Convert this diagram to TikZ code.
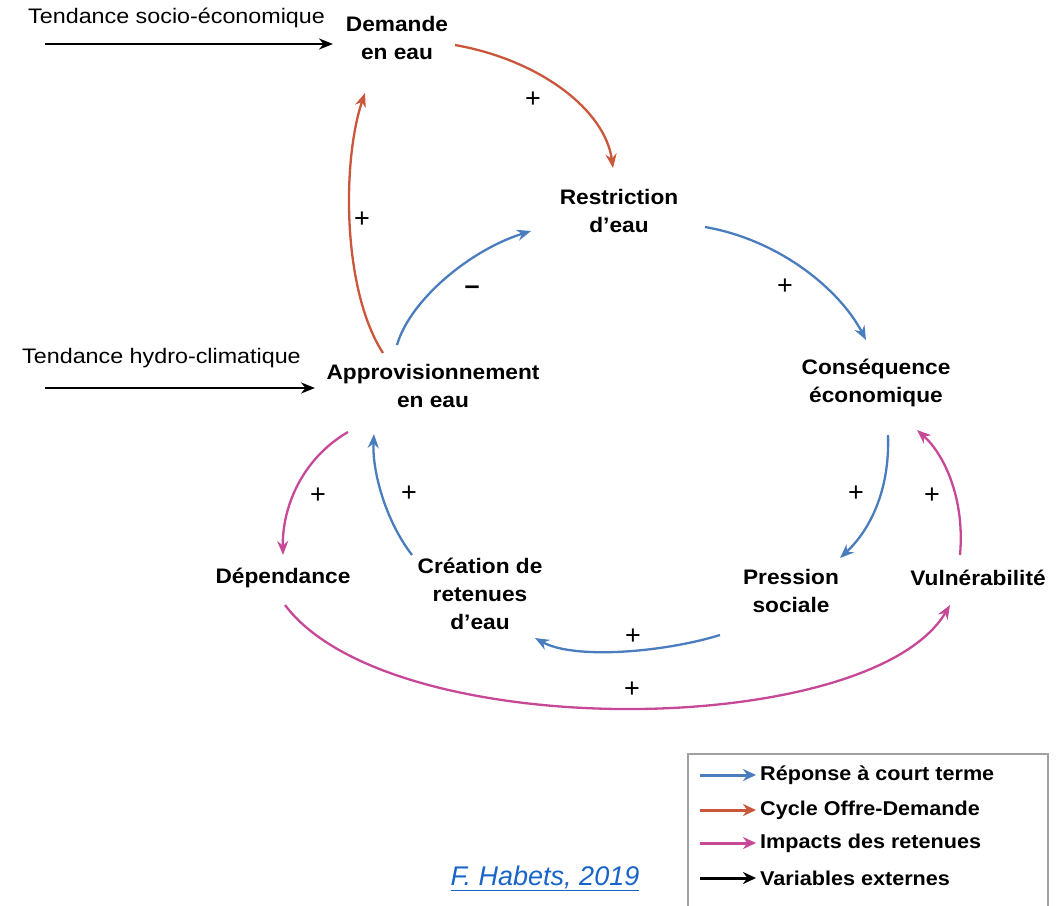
\documentclass[tikz,border=0pt]{standalone}
\usepackage{fontspec}
\setmainfont{Liberation Sans}
\newfontfamily\nodefont[FakeStretch=1.08]{Liberation Sans}
\newfontfamily\extfont[FakeStretch=1.11]{Liberation Sans}
\usetikzlibrary{arrows.meta,calc}
\definecolor{cblue}{RGB}{74,125,190}
\definecolor{cred}{RGB}{202,86,60}
\definecolor{cpink}{RGB}{200,72,152}
\definecolor{capblue}{RGB}{24,100,200}
\definecolor{boxgray}{RGB}{160,160,160}
\begin{document}
\begin{tikzpicture}[x=1pt,y=-1pt,
  lbl/.style={font=\nodefont\bfseries\fontsize{21}{28}\selectfont, align=center, inner sep=0pt},
  ext/.style={font=\extfont\fontsize{21}{25}\selectfont, inner sep=0pt, anchor=west},
  leg/.style={font=\nodefont\bfseries\fontsize{20}{24}\selectfont, inner sep=0pt, anchor=west},
  sgn/.style={font=\fontsize{27}{27}\selectfont, inner sep=0pt},
  link/.style={line width=2.3pt, -{Stealth[length=14pt,width=11pt]}},
  bluel/.style={link, draw=cblue},
  redl/.style={link, draw=cred},
  pinkl/.style={link, draw=cpink},
  blackl/.style={link, draw=black},
  legl/.style={line width=3pt, -{Stealth[length=13pt,width=12pt]}},
]
\useasboundingbox (0,0) rectangle (1064,905);
\fill[white] (0,0) rectangle (1064,905);

% nodes
\node[lbl] (dem) at (397,38) {Demande\\en eau};
\node[lbl] (restr) at (619,211) {Restriction\\d’eau};
\node[lbl] (cons) at (876,383) {Conséquence\\économique};
\node[lbl] (appro) at (433,386) {Approvisionnement\\en eau};
\node[lbl] (dep) at (283,578) {Dépendance};
\node[lbl] (crea) at (480,594) {Création de\\retenues\\d’eau};
\node[lbl] (press) at (791,591) {Pression\\sociale};
\node[lbl] (vuln) at (978,578) {Vulnérabilité};

% external variables
\node[ext] (tse) at (28,18) {Tendance socio-économique};
\node[ext] (thc) at (22,358) {Tendance hydro-climatique};
\coordinate (s1) at (45,44);
\coordinate (s2) at (45,388);
\draw[blackl] (s1) -- ([shift={(-64,6)}]dem.center);
\draw[blackl] (s2) -- ([shift={(-118,2)}]appro.center);

% red: offre-demande
\draw[redl] ([shift={(58,7)}]dem.center) .. controls (540,60) and (605,110) .. ([shift={(-6,-43)}]restr.center);
\draw[redl] ([shift={(-50,-33)}]appro.center) .. controls (342,290) and (342,160) .. ([shift={(-32,55)}]dem.center);

% blue: short-term response
\draw[bluel] ([shift={(-36,-41)}]appro.center) .. controls (410,300) and (470,250) .. ([shift={(-88,20)}]restr.center);
\draw[bluel] ([shift={(86,16)}]restr.center) .. controls (780,240) and (840,290) .. ([shift={(-10,-43)}]cons.center);
\draw[bluel] ([shift={(12,52)}]cons.center) .. controls (890,490) and (870,530) .. ([shift={(49,-33)}]press.center);
\draw[bluel] ([shift={(-71,44)}]press.center) .. controls (665,652) and (575,660) .. ([shift={(55,44)}]crea.center);
\draw[bluel] ([shift={(-68,-39)}]crea.center) .. controls (385,520) and (372,470) .. ([shift={(-59,48)}]appro.center);

% pink: impacts des retenues
\draw[pinkl] ([shift={(-18,-23)}]vuln.center) .. controls (965,500) and (945,455) .. ([shift={(41,47)}]cons.center);
\draw[pinkl] ([shift={(-85,46)}]appro.center) .. controls (300,460) and (282,510) .. ([shift={(0,-23)}]dep.center);
\draw[pinkl] ([shift={(2,27)}]dep.center) .. controls (390,745) and (870,740) .. ([shift={(-28,27)}]vuln.center);

% signs
\node[sgn] (p1) at (533,100) {+};
\node[sgn] (p2) at (362,220) {+};
\node[sgn] (m1) at (472,290) {\textbf{–}};
\node[sgn] (p3) at (785,287) {+};
\node[sgn] (p4) at (856,494) {+};
\node[sgn] (p5) at (932,496) {+};
\node[sgn] (p6) at (318,496) {+};
\node[sgn] (p7) at (409,494) {+};
\node[sgn] (p8) at (633,637) {+};
\node[sgn] (p9) at (632,690) {+};

% legend
\draw[boxgray, line width=1.2pt] (688,910) -- (688,754) -- (1048,754) -- (1048,910);
\node[leg] (l1) at (760,775) {Réponse à court terme};
\node[leg] (l2) at (760,810) {Cycle Offre-Demande};
\node[leg] (l3) at (760,843) {Impacts des retenues};
\node[leg] (l4) at (760,878) {Variables externes};
\draw[legl, draw=cblue] ([xshift=-60pt]l1.west) -- ([xshift=-4pt]l1.west);
\draw[legl, draw=cred] ([xshift=-60pt]l2.west) -- ([xshift=-4pt]l2.west);
\draw[legl, draw=cpink] ([xshift=-60pt]l3.west) -- ([xshift=-4pt]l3.west);
\draw[legl, draw=black] ([xshift=-60pt]l4.west) -- ([xshift=-4pt]l4.west);

% credit
\node[font=\itshape\fontsize{27}{27}\selectfont, text=capblue, inner sep=0pt] (cred) at (545,878) {\underline{F. Habets, 2019}};
\end{tikzpicture}
\end{document}
